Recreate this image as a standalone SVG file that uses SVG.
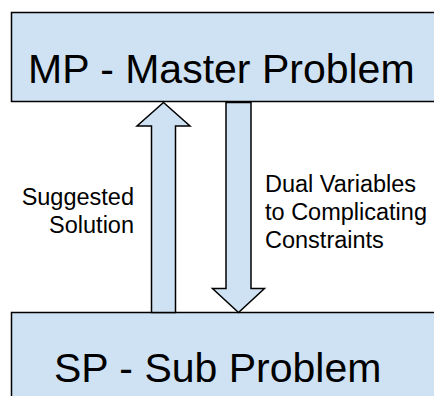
<svg xmlns="http://www.w3.org/2000/svg" width="434" height="396" viewBox="0 0 434 396">
<style>
.box{fill:#cfe2f3;stroke:#000;stroke-width:1.5}
.arrow{fill:#cfe2f3;stroke:#000;stroke-width:1.5;stroke-linejoin:miter}
.big{font-family:"Liberation Sans",Arial,sans-serif;font-size:41px;fill:#000}
.lbl{font-family:"Liberation Sans",Arial,sans-serif;font-size:23.5px;fill:#000}
</style>
<rect width="434" height="396" fill="#fff"/>
<g id="mp">
<rect class="box" x="11.5" y="12.5" width="440" height="89"/>
<text class="big" x="28" y="83">MP - Master Problem</text>
</g>
<g id="sp">
<rect class="box" x="11.5" y="312.5" width="440" height="100"/>
<text class="big" x="54" y="382">SP - Sub Problem</text>
</g>
<g id="connectors">
<polygon class="arrow" points="163.5,102.5 190,126 175.5,126 175.5,312.5 151.5,312.5 151.5,126 137,126"/>
<polygon class="arrow" points="226,102.5 251,102.5 251,288.5 264.5,288.5 238.5,312.5 212.5,288.5 226,288.5"/>
<text class="lbl" x="134" y="205" text-anchor="end">Suggested</text>
<text class="lbl" x="134" y="233" text-anchor="end">Solution</text>
<text class="lbl" x="265" y="192">Dual Variables</text>
<text class="lbl" x="265" y="220">to Complicating</text>
<text class="lbl" x="265" y="248">Constraints</text>
</g>
</svg>
